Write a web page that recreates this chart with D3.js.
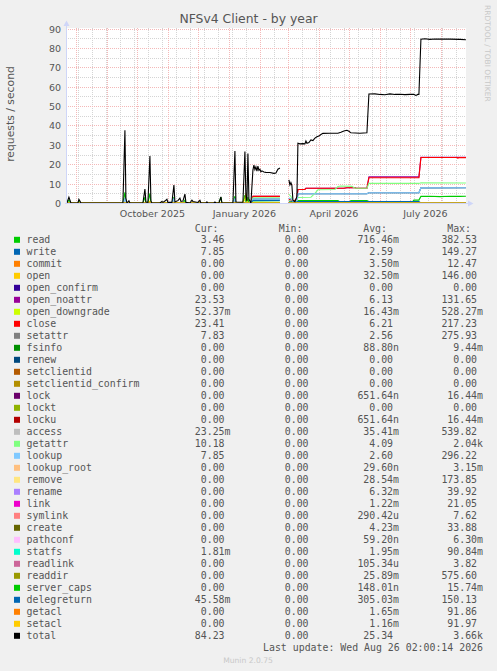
<!DOCTYPE html>
<html><head><meta charset="utf-8">
<script src="https://cdn.jsdelivr.net/npm/d3@7"></script>
<style>
html,body{margin:0;padding:0;background:#f0f0f0;}
svg{display:block;}
</style></head><body>
<svg id="chart" width="497" height="671"></svg>
<script>
// ---------------- DATA ----------------
const chartTitle = "NFSv4 Client - by year";
const yAxisLabel = "requests / second";
const yTicks = [0,10,20,30,40,50,60,70,80,90];
const xTickLabels = [["2025-10-01","October 2025"],["2026-01-01","January 2026"],["2026-04-01","April 2026"],["2026-07-01","July 2026"]];
const timeStart = "2025-07-22T02:00:00";
const timeEnd = "2026-08-26T02:00:00";

const legendNames = ["read","write","commit","open","open_confirm","open_noattr","open_downgrade","close","setattr","fsinfo","renew","setclientid","setclientid_confirm","lock","lockt","locku","access","getattr","lookup","lookup_root","remove","rename","link","symlink","create","pathconf","statfs","readlink","readdir","server_caps","delegreturn","getacl","setacl","total"];
const legendColors = ["#00CC00","#0066B3","#FF8000","#FFCC00","#330099","#990099","#CCFF00","#FF0000","#808080","#008F00","#00487D","#B35A00","#B38F00","#6B006B","#8FB300","#B30000","#BEBEBE","#80FF80","#80C9FF","#FFC080","#FFE680","#AA80FF","#EE00CC","#FF8080","#666600","#FFBFFF","#00FFCC","#CC6699","#999900","#00CC00","#0066B3","#FF8000","#FFCC00","#000000"];
const curValues = ["3.46","7.85","0.00","0.00","0.00","23.53","52.37m","23.41","7.83","0.00","0.00","0.00","0.00","0.00","0.00","0.00","23.25m","10.18","7.85","0.00","0.00","0.00","0.00","0.00","0.00","0.00","1.81m","0.00","0.00","0.00","45.58m","0.00","0.00","84.23"];
const minValues = ["0.00","0.00","0.00","0.00","0.00","0.00","0.00","0.00","0.00","0.00","0.00","0.00","0.00","0.00","0.00","0.00","0.00","0.00","0.00","0.00","0.00","0.00","0.00","0.00","0.00","0.00","0.00","0.00","0.00","0.00","0.00","0.00","0.00","0.00"];
const avgValues = ["716.46m","2.59","3.50m","32.50m","0.00","6.13","16.43m","6.21","2.56","88.80n","0.00","0.00","0.00","651.64n","0.00","651.64n","35.41m","4.09","2.60","29.60n","28.54m","6.32m","1.22m","290.42u","4.23m","59.20n","1.95m","105.34u","25.89m","148.01n","305.03m","1.65m","1.16m","25.34"];
const maxValues = ["382.53","149.27","12.47","146.00","0.00","131.65","528.27m","217.23","275.93","9.44m","0.00","0.00","0.00","16.44m","0.00","16.44m","539.82","2.04k","296.22","3.15m","173.85","39.92","21.05","7.62","33.88","6.30m","90.84m","3.82","575.60","15.74m","150.13","91.86","91.97","3.66k"];
const lastUpdate = "Last update: Wed Aug 26 02:00:14 2026";
const footer = "Munin 2.0.75";
const watermark = "RRDTOOL / TOBI OETIKER";

// series values [date, requests/s]; null = no data
const zeroSeries = [["2025-07-22",0],["2026-02-21",0],["2026-02-22",null],["2026-03-02",0],["2026-08-26",0]];

const totalSeries = [
["2025-07-22",0],["2025-07-23",0],["2025-07-25",3.0],["2025-07-27",0],
["2025-08-03",0],["2025-08-04",1.9],["2025-08-05",1.0],["2025-08-06",0],
["2025-09-17",0],["2025-09-19",37.5],["2025-09-20",2.5],["2025-09-21",0],["2025-09-23",1.2],["2025-09-24",0],
["2025-10-07",0],["2025-10-09",7.2],["2025-10-10",0.5],["2025-10-12",0.3],["2025-10-14",24.2],["2025-10-15",1.0],["2025-10-16",0],
["2025-10-24",0],["2025-10-26",0.8],["2025-10-27",0.3],["2025-10-29",1.0],["2025-10-31",1.9],["2025-11-01",0.3],
["2025-11-05",0.3],["2025-11-07",9.3],["2025-11-08",0.5],["2025-11-11",1.2],["2025-11-13",2.5],["2025-11-14",0.8],["2025-11-16",1.0],["2025-11-18",4.6],["2025-11-19",0.3],
["2025-11-23",0],["2025-11-25",1.5],["2025-11-26",0.8],["2025-12-01",0.3],["2025-12-03",1.4],["2025-12-04",0],
["2025-12-09",0],["2025-12-10",0.6],["2025-12-11",0],["2025-12-17",0],["2025-12-18",0.5],["2025-12-19",0],
["2025-12-22",0],["2025-12-24",3.2],["2025-12-25",0],
["2026-01-05",0],["2026-01-07",26.8],["2026-01-08",0.5],["2026-01-15",0.4],["2026-01-17",26.5],["2026-01-18",3],["2026-01-19",1],["2026-01-20",25.5],["2026-01-21",2],["2026-01-23",0],
["2026-01-25",17],["2026-01-26",19.6],["2026-01-27",17.2],["2026-01-28",18.6],["2026-01-29",16.4],["2026-01-30",19.0],["2026-01-31",16.8],["2026-02-01",17.4],["2026-02-02",16.1],["2026-02-03",16.6],["2026-02-05",16.0],["2026-02-07",15.8],["2026-02-11",15.7],["2026-02-15",15.3],["2026-02-17",15.5],["2026-02-19",17.4],["2026-02-21",18.0],
["2026-02-22",null],
["2026-03-02",11.9],["2026-03-03",9.3],["2026-03-04",10.5],["2026-03-05",9.0],["2026-03-06",1.5],["2026-03-08",0.7],["2026-03-10",3.3],["2026-03-11",30.8],["2026-03-13",30.5],["2026-03-16",30.6],["2026-03-18",30.5],["2026-03-19",32.0],["2026-03-20",30.8],["2026-03-22",31.2],["2026-03-24",32.5],["2026-03-26",32.2],["2026-03-28",33.5],["2026-03-30",34.2],["2026-04-01",34.5],["2026-04-03",35.3],["2026-04-05",35.9],["2026-04-12",36.0],["2026-04-20",36.0],["2026-04-23",36.5],["2026-04-26",37.1],["2026-04-29",37.5],["2026-05-01",37.0],["2026-05-03",36.2],["2026-05-12",36.0],["2026-05-19",36.2],
["2026-05-21",56.2],["2026-05-27",56.3],["2026-06-01",56.0],["2026-06-06",55.8],["2026-06-11",56.3],["2026-06-16",56.0],["2026-06-21",56.1],["2026-06-26",55.9],["2026-07-01",56.0],["2026-07-05",56.0],["2026-07-07",55.5],["2026-07-09",56.0],["2026-07-10",56.0],
["2026-07-12",84.5],["2026-07-16",84.7],["2026-07-21",84.4],["2026-07-26",84.6],["2026-07-31",84.5],["2026-08-10",84.5],["2026-08-20",84.4],["2026-08-26",84.23]];

const readSeries = [
["2025-07-22",0],["2025-07-23",0],["2025-07-25",1.5],["2025-07-27",0],["2025-08-03",0],["2025-08-04",1.0],["2025-08-05",0],
["2025-09-17",0],["2025-09-19",5.5],["2025-09-20",0.5],["2025-09-21",0],["2025-10-07",0],["2025-10-09",3.0],["2025-10-10",0],
["2025-10-12",0],["2025-10-14",5.0],["2025-10-15",0],["2025-11-05",0],["2025-11-07",3.0],["2025-11-08",0],["2025-11-16",0],
["2025-11-18",1.5],["2025-11-19",0],["2025-12-22",0],["2025-12-24",3.0],["2025-12-25",0],["2026-01-05",0],["2026-01-07",3.5],
["2026-01-08",0],["2026-01-15",0],["2026-01-17",4.0],["2026-01-18",0.5],["2026-01-19",0],["2026-01-20",3.0],["2026-01-21",0],
["2026-01-23",0],["2026-01-25",0.5],["2026-02-21",0.4],["2026-02-22",null],["2026-03-02",1.0],["2026-03-05",0.8],["2026-03-06",0],
["2026-03-10",0.5],["2026-03-11",1.2],["2026-04-20",1.2],["2026-04-23",0.3],["2026-05-01",0.3],["2026-05-03",1.2],["2026-05-19",1.2],
["2026-05-21",0.8],["2026-07-04",0.8],["2026-07-05",1.5],["2026-07-10",1.5],["2026-07-12",3.4],["2026-07-21",3.5],["2026-07-31",3.3],
["2026-08-10",3.5],["2026-08-20",3.4],["2026-08-26",3.46]];

// write, setattr and lookup run together
const writeSeries = [
["2025-07-22",0],["2025-09-17",0],["2025-09-19",2.0],["2025-09-20",0],["2025-11-05",0],["2025-11-07",2.0],["2025-11-08",0],
["2026-01-05",0],["2026-01-07",2.0],["2026-01-08",0],["2026-01-23",0],["2026-01-25",2.0],["2026-02-21",2.0],["2026-02-22",null],
["2026-03-02",2.5],["2026-03-05",2.0],["2026-03-06",0.3],["2026-03-10",1.0],["2026-03-11",4.8],["2026-05-19",4.8],["2026-05-21",5.3],
["2026-07-10",5.3],["2026-07-12",7.8],["2026-08-26",7.85]];

const openSeries = [
["2025-07-22",0],["2025-10-12",0],["2025-10-14",1.0],["2025-10-15",0],["2026-01-15",0],["2026-01-17",2.0],["2026-01-18",5.0],
["2026-01-19",1.0],["2026-01-20",0],["2026-02-21",0],["2026-02-22",null],["2026-03-02",0],["2026-08-26",0]];

const closeSeries = [
["2025-07-22",0],["2026-01-23",0],["2026-01-25",3.4],["2026-02-21",3.4],["2026-02-22",null],["2026-03-02",2.0],["2026-03-05",1.5],
["2026-03-06",0.2],["2026-03-10",2.5],["2026-03-11",7.0],["2026-03-18",7.0],["2026-03-19",7.6],["2026-04-26",7.6],["2026-04-29",7.9],
["2026-05-07",7.9],["2026-05-08",7.6],["2026-05-19",7.6],["2026-05-21",13.0],["2026-07-10",13.0],["2026-07-12",23.5],["2026-08-17",23.5],
["2026-08-18",23.1],["2026-08-19",23.5],["2026-08-26",23.41]];

const noattrSeries = [
["2025-07-22",0],["2026-01-23",0],["2026-01-25",3.4],["2026-02-21",3.4],["2026-02-22",null],["2026-03-02",2.0],["2026-03-05",1.5],
["2026-03-06",0.2],["2026-03-10",2.5],["2026-03-11",7.0],["2026-03-18",7.0],["2026-03-19",7.6],["2026-04-26",7.6],["2026-04-29",7.9],
["2026-05-07",7.9],["2026-05-08",7.6],["2026-05-19",7.6],["2026-05-21",13.5],["2026-07-10",13.5],["2026-07-12",23.6],["2026-08-26",23.53]];

const getattrSeries = [
["2025-07-22",0],["2026-01-23",0],["2026-01-25",2.7],["2026-02-21",2.7],["2026-02-22",null],["2026-03-02",4.5],["2026-03-04",3.5],
["2026-03-06",0.5],["2026-03-10",1.2],["2026-03-11",2.8],["2026-03-24",3.0],["2026-03-28",5.0],["2026-03-31",6.8],["2026-04-17",7.0],
["2026-04-20",8.5],["2026-04-23",8.8],["2026-05-04",8.6],["2026-05-07",7.6],["2026-05-19",7.6],["2026-05-21",10.1],["2026-07-10",10.1],
["2026-07-12",10.4],["2026-08-26",10.3]];

const delegreturnSeries = [
["2025-07-22",0],["2026-01-23",0],["2026-01-25",1.3],["2026-02-21",1.3],["2026-02-22",null],["2026-03-02",0.5],["2026-03-10",0.5],
["2026-03-11",0.7],["2026-07-10",0.7],["2026-07-12",0.05],["2026-08-26",0.05]];

const seriesByName = {read: readSeries, write: writeSeries, open: openSeries, open_noattr: noattrSeries, close: closeSeries,
  setattr: writeSeries, getattr: getattrSeries, lookup: writeSeries, delegreturn: delegreturnSeries, total: totalSeries};

// ---------------- DRAW ----------------
const svg = d3.select("#chart");
const W = 497, H = 671;
svg.append("rect").attr("width", W).attr("height", H).attr("fill", "#f0f0f0");

const plotL = 66, plotR = 466, plotT = 28, plotB = 203;
const parse = d3.isoParse;
const x = d3.scaleTime().domain([parse(timeStart), parse(timeEnd)]).range([plotL, plotR]);
const y = d3.scaleLinear().domain([0, 90]).range([plotB, 28.5]);

svg.append("rect").attr("x", plotL).attr("y", plotT).attr("width", plotR - plotL).attr("height", plotB - plotT).attr("fill", "#ffffff");

const fontSans = "'DejaVu Sans', sans-serif";
const fontMono = "'DejaVu Sans Mono', monospace";
const textCol = "#555555";
const minorCol = "#d4d4d4";
const majorCol = "#f4b8b8";

// grid
const grid = svg.append("g").attr("shape-rendering", "crispEdges");
const fortnights = d3.timeDay.range(parse("2025-08-03"), parse(timeEnd), 14);
grid.selectAll("line.vmin").data(fortnights).join("line")
  .attr("x1", d => Math.round(x(d)) + 0.5).attr("x2", d => Math.round(x(d)) + 0.5)
  .attr("y1", plotT).attr("y2", plotB)
  .attr("stroke", minorCol).attr("stroke-dasharray", "1,1");
const minorY = d3.range(5, 90, 10);
grid.selectAll("line.hmin").data(minorY).join("line")
  .attr("x1", plotL).attr("x2", plotR)
  .attr("y1", d => Math.round(y(d)) + 0.5).attr("y2", d => Math.round(y(d)) + 0.5)
  .attr("stroke", minorCol).attr("stroke-dasharray", "1,1");
const months = d3.timeMonth.range(parse("2025-08-01"), parse(timeEnd));
grid.selectAll("line.vmaj").data(months).join("line")
  .attr("x1", d => Math.round(x(d)) + 0.5).attr("x2", d => Math.round(x(d)) + 0.5)
  .attr("y1", plotT).attr("y2", plotB)
  .attr("stroke", majorCol).attr("stroke-dasharray", "1,1");
grid.selectAll("line.hmaj").data(yTicks.slice(1)).join("line")
  .attr("x1", plotL).attr("x2", plotR)
  .attr("y1", d => Math.round(y(d)) + 0.5).attr("y2", d => Math.round(y(d)) + 0.5)
  .attr("stroke", majorCol).attr("stroke-dasharray", "1,1");

// y tick labels
svg.append("g").selectAll("text").data(yTicks).join("text")
  .attr("x", 61).attr("y", d => Math.round(y(d)) + 3.5)
  .attr("text-anchor", "end").attr("font-family", fontSans).attr("font-size", 9.5)
  .attr("fill", textCol).text(d => d);

// x labels centered on month
svg.append("g").selectAll("text").data(xTickLabels).join("text")
  .attr("x", d => { const s = parse(d[0]); return (x(s) + x(d3.timeMonth.offset(s, 1))) / 2; })
  .attr("y", 216.5).attr("text-anchor", "middle")
  .attr("font-family", fontSans).attr("font-size", 9.5).attr("fill", textCol)
  .text(d => d[1]);

// series lines
svg.append("clipPath").attr("id", "clip").append("rect")
  .attr("x", plotL).attr("y", plotT - 2).attr("width", plotR - plotL + 1).attr("height", plotB - plotT + 3);
const lineGen = d3.line().defined(d => d[1] !== null).x(d => x(parse(d[0]))).y(d => y(d[1]));
const lines = svg.append("g").attr("clip-path", "url(#clip)");
legendNames.forEach((name, i) => {
  const data = seriesByName[name] || zeroSeries;
  lines.append("path").datum(data).attr("d", lineGen)
    .attr("fill", "none").attr("stroke", legendColors[i]).attr("stroke-width", 1.1);
});

// axes
const axisCol = "#cfd6f8";
svg.append("line").attr("x1", plotL + 0.5).attr("x2", plotL + 0.5).attr("y1", plotB + 1).attr("y2", 24)
  .attr("stroke", axisCol).attr("shape-rendering", "crispEdges");
svg.append("line").attr("x1", plotL - 1).attr("x2", plotR + 4).attr("y1", plotB + 0.5).attr("y2", plotB + 0.5)
  .attr("stroke", axisCol).attr("shape-rendering", "crispEdges");
svg.append("path").attr("d", `M${plotL - 2.5},${26} L${plotL + 0.5},${20.5} L${plotL + 3.5},${26} Z`).attr("fill", axisCol);
svg.append("path").attr("d", `M${plotR + 2},${plotB - 2.5} L${plotR + 7.5},${plotB + 0.5} L${plotR + 2},${plotB + 3.5} Z`).attr("fill", axisCol);

// title
svg.append("text").attr("x", 248.5).attr("y", 23).attr("text-anchor", "middle")
  .attr("font-family", fontSans).attr("font-size", 12.4).attr("fill", textCol).text(chartTitle);
// y label
svg.append("text").attr("transform", "translate(14,114) rotate(-90)").attr("text-anchor", "middle")
  .attr("font-family", fontSans).attr("font-size", 10.8).attr("fill", textCol).text(yAxisLabel);
// watermark
svg.append("text").attr("transform", "translate(485,5) rotate(90)").attr("text-anchor", "start")
  .attr("font-family", fontSans).attr("font-size", 7.5).attr("fill", "#c8c8c8").text(watermark);

// legend
const leg = svg.append("g").attr("font-family", fontMono).attr("font-size", 9.9).attr("fill", textCol);
const headers = [["Cur:", 218.5], ["Min:", 302.5], ["Avg:", 387], ["Max:", 471]];
leg.selectAll("text.h").data(headers).join("text").attr("x", d => d[1]).attr("y", 232.3)
  .attr("text-anchor", "end").text(d => d[0]);
const fmt = s => /[a-z]$/i.test(s) ? s : s + "\u00A0";
const colEdges = [230.5, 314.5, 399, 483];
const cols = [curValues, minValues, avgValues, maxValues];
legendNames.forEach((name, i) => {
  const by = 243.3 + 12 * i;
  leg.append("rect").attr("x", 14).attr("y", by - 6.5).attr("width", 6).attr("height", 6).attr("fill", legendColors[i]);
  leg.append("text").attr("x", 26.5).attr("y", by).text(name);
  cols.forEach((arr, c) => {
    leg.append("text").attr("x", colEdges[c]).attr("y", by).attr("text-anchor", "end").text(fmt(arr[i]));
  });
});
leg.append("text").attr("x", 483).attr("y", 651).attr("text-anchor", "end").text(lastUpdate);
svg.append("text").attr("x", 248).attr("y", 663.3).attr("text-anchor", "middle")
  .attr("font-family", fontSans).attr("font-size", 7.6).attr("fill", "#c8c8c8").text(footer);
</script>
</body></html>
